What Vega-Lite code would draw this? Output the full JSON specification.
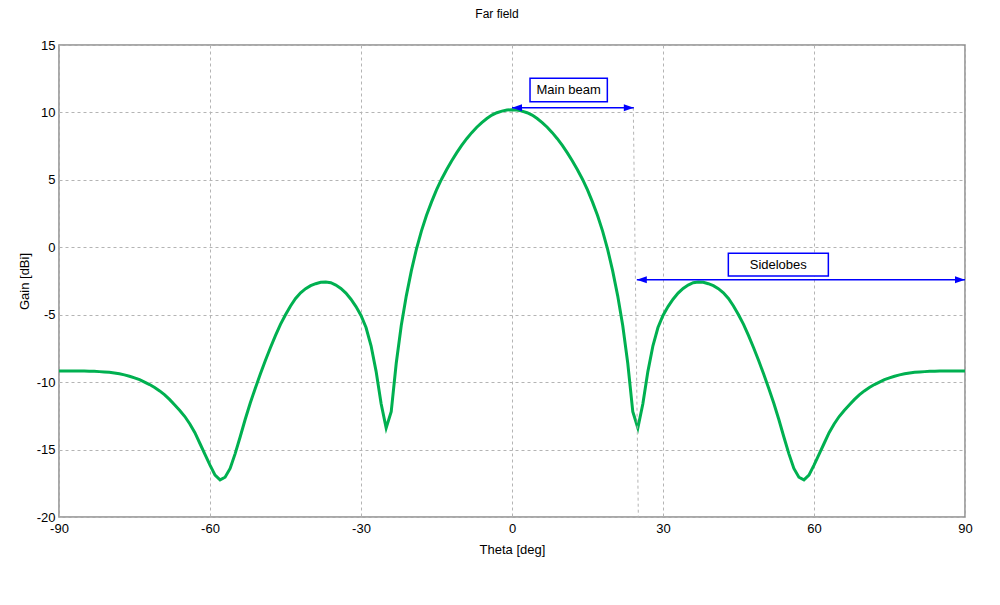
{
  "$schema": "https://vega.github.io/schema/vega-lite/v6.json",
  "autosize": "none",
  "width": 906,
  "height": 472,
  "padding": {"left": 59, "top": 45, "right": 35, "bottom": 88},
  "background": "white",
  "title": {"text": "Far field", "fontSize": 12, "fontWeight": "normal", "font": "Liberation Sans", "color": "black", "anchor": "middle", "dx": -15, "offset": 18},
  "config": {
    "view": {"stroke": "#8c8c8c", "strokeWidth": 1.5},
    "font": "Liberation Sans",
    "axis": {"domain": false, "ticks": false, "grid": true, "gridColor": "#b4b4b4", "gridDash": [3, 3], "gridWidth": 1, "labelFont": "Liberation Sans", "labelFontSize": 13, "labelColor": "black", "titleFont": "Liberation Sans", "titleFontSize": 13, "titleFontWeight": "normal", "titleColor": "black", "labelFlush": false, "labelExpr": "'' + datum.value"},
    "axisX": {"labelPadding": 5, "titlePadding": 8},
    "axisY": {"labelPadding": 4, "titlePadding": 5}
  },
  "datasets": {
    "pattern": [
      {"t":-90,"g":-9.17},{"t":-89,"g":-9.17},{"t":-88,"g":-9.17},{"t":-87,"g":-9.17},{"t":-86,"g":-9.18},{"t":-85,"g":-9.18},{"t":-84,"g":-9.19},{"t":-83,"g":-9.2},{"t":-82,"g":-9.22},{"t":-81,"g":-9.24},
      {"t":-80,"g":-9.27},{"t":-79,"g":-9.32},{"t":-78,"g":-9.38},{"t":-77,"g":-9.46},{"t":-76,"g":-9.56},{"t":-75,"g":-9.68},{"t":-74,"g":-9.82},{"t":-73,"g":-10.0},{"t":-72,"g":-10.18},{"t":-71,"g":-10.4},
      {"t":-70,"g":-10.65},{"t":-69,"g":-10.95},{"t":-68,"g":-11.3},{"t":-67,"g":-11.7},{"t":-66,"g":-12.1},{"t":-65,"g":-12.55},{"t":-64,"g":-13.1},{"t":-63,"g":-13.75},{"t":-62,"g":-14.55},{"t":-61,"g":-15.35},
      {"t":-60,"g":-16.15},{"t":-59,"g":-16.9},{"t":-58,"g":-17.25},{"t":-57,"g":-17.05},{"t":-56,"g":-16.4},{"t":-55,"g":-15.3},{"t":-54,"g":-14.05},{"t":-53,"g":-12.75},{"t":-52,"g":-11.55},{"t":-51,"g":-10.45},
      {"t":-50,"g":-9.4},{"t":-49,"g":-8.4},{"t":-48,"g":-7.45},{"t":-47,"g":-6.55},{"t":-46,"g":-5.72},{"t":-45,"g":-5.0},{"t":-44,"g":-4.35},{"t":-43,"g":-3.8},{"t":-42,"g":-3.37},{"t":-41,"g":-3.07},
      {"t":-40,"g":-2.85},{"t":-39,"g":-2.7},{"t":-38,"g":-2.6},{"t":-37,"g":-2.57},{"t":-36,"g":-2.63},{"t":-35,"g":-2.8},{"t":-34,"g":-3.05},{"t":-33,"g":-3.4},{"t":-32,"g":-3.85},{"t":-31,"g":-4.4},
      {"t":-30,"g":-5.05},{"t":-29,"g":-5.95},{"t":-28,"g":-7.3},{"t":-27,"g":-9.2},{"t":-26,"g":-11.6},{"t":-25,"g":-13.4},{"t":-24,"g":-12.2},{"t":-23,"g":-8.6},{"t":-22,"g":-5.8},{"t":-21,"g":-3.6},
      {"t":-20,"g":-1.75},{"t":-19,"g":-0.15},{"t":-18,"g":1.2},{"t":-17,"g":2.35},{"t":-16,"g":3.35},{"t":-15,"g":4.25},{"t":-14,"g":5.05},{"t":-13,"g":5.75},{"t":-12,"g":6.4},{"t":-11,"g":7.0},
      {"t":-10,"g":7.55},{"t":-9,"g":8.05},{"t":-8,"g":8.5},{"t":-7,"g":8.9},{"t":-6,"g":9.25},{"t":-5,"g":9.55},{"t":-4,"g":9.8},{"t":-3,"g":9.98},{"t":-2,"g":10.1},{"t":-1,"g":10.18},
      {"t":0,"g":10.2},
      {"t":1,"g":10.18},{"t":2,"g":10.1},{"t":3,"g":9.98},{"t":4,"g":9.8},{"t":5,"g":9.55},{"t":6,"g":9.25},{"t":7,"g":8.9},{"t":8,"g":8.5},{"t":9,"g":8.05},{"t":10,"g":7.55},
      {"t":11,"g":7.0},{"t":12,"g":6.4},{"t":13,"g":5.75},{"t":14,"g":5.05},{"t":15,"g":4.25},{"t":16,"g":3.35},{"t":17,"g":2.35},{"t":18,"g":1.2},{"t":19,"g":-0.15},{"t":20,"g":-1.75},
      {"t":21,"g":-3.6},{"t":22,"g":-5.8},{"t":23,"g":-8.6},{"t":24,"g":-12.2},{"t":25,"g":-13.4},{"t":26,"g":-11.6},{"t":27,"g":-9.2},{"t":28,"g":-7.3},{"t":29,"g":-5.95},{"t":30,"g":-5.05},
      {"t":31,"g":-4.4},{"t":32,"g":-3.85},{"t":33,"g":-3.4},{"t":34,"g":-3.05},{"t":35,"g":-2.8},{"t":36,"g":-2.63},{"t":37,"g":-2.57},{"t":38,"g":-2.6},{"t":39,"g":-2.7},{"t":40,"g":-2.85},
      {"t":41,"g":-3.07},{"t":42,"g":-3.37},{"t":43,"g":-3.8},{"t":44,"g":-4.35},{"t":45,"g":-5.0},{"t":46,"g":-5.72},{"t":47,"g":-6.55},{"t":48,"g":-7.45},{"t":49,"g":-8.4},{"t":50,"g":-9.4},
      {"t":51,"g":-10.45},{"t":52,"g":-11.55},{"t":53,"g":-12.75},{"t":54,"g":-14.05},{"t":55,"g":-15.3},{"t":56,"g":-16.4},{"t":57,"g":-17.05},{"t":58,"g":-17.25},{"t":59,"g":-16.9},{"t":60,"g":-16.15},
      {"t":61,"g":-15.35},{"t":62,"g":-14.55},{"t":63,"g":-13.75},{"t":64,"g":-13.1},{"t":65,"g":-12.55},{"t":66,"g":-12.1},{"t":67,"g":-11.7},{"t":68,"g":-11.3},{"t":69,"g":-10.95},{"t":70,"g":-10.65},
      {"t":71,"g":-10.4},{"t":72,"g":-10.18},{"t":73,"g":-10.0},{"t":74,"g":-9.82},{"t":75,"g":-9.68},{"t":76,"g":-9.56},{"t":77,"g":-9.46},{"t":78,"g":-9.38},{"t":79,"g":-9.32},{"t":80,"g":-9.27},
      {"t":81,"g":-9.24},{"t":82,"g":-9.22},{"t":83,"g":-9.2},{"t":84,"g":-9.19},{"t":85,"g":-9.18},{"t":86,"g":-9.18},{"t":87,"g":-9.17},{"t":88,"g":-9.17},{"t":89,"g":-9.17},{"t":90,"g":-9.17}
    ],
    "guide": [{"x1": 24.1, "y1": 10.35, "x2": 25.1, "y2": -20}],
    "arrows": [
      {"name": "main", "a": 0, "b": 24.2, "y": 10.35},
      {"name": "side", "a": 24.8, "b": 90, "y": -2.4}
    ],
    "boxes": [
      {"label": "Main beam", "x1": 3.58, "x2": 18.94, "y1": 12.53, "y2": 10.8, "cx": 11.26, "cy": 11.66},
      {"label": "Sidelobes", "x1": 42.98, "x2": 62.85, "y1": -0.45, "y2": -2.13, "cx": 52.9, "cy": -1.29}
    ]
  },
  "layer": [
    {
      "data": {"name": "pattern"},
      "mark": {"type": "line", "color": "#00b050", "strokeWidth": 3, "interpolate": "linear", "clip": true},
      "encoding": {
        "x": {"field": "t", "type": "quantitative", "scale": {"domain": [-90, 90], "nice": false, "zero": false},
              "axis": {"values": [-90, -60, -30, 0, 30, 60, 90], "title": "Theta [deg]"}},
        "y": {"field": "g", "type": "quantitative", "scale": {"domain": [-20, 15], "nice": false, "zero": false},
              "axis": {"values": [-20, -15, -10, -5, 0, 5, 10, 15], "title": "Gain [dBi]"}}
      }
    },
    {
      "data": {"name": "guide"},
      "mark": {"type": "rule", "color": "#b4b4b4", "strokeDash": [3, 3], "strokeWidth": 1},
      "encoding": {
        "x": {"field": "x1", "type": "quantitative", "axis": {"values": [-90, -60, -30, 0, 30, 60, 90], "title": "Theta [deg]"}},
        "x2": {"field": "x2"},
        "y": {"field": "y1", "type": "quantitative", "axis": {"values": [-20, -15, -10, -5, 0, 5, 10, 15], "title": "Gain [dBi]"}},
        "y2": {"field": "y2"}
      }
    },
    {
      "data": {"name": "arrows"},
      "mark": {"type": "rule", "color": "#0000ff", "strokeWidth": 1.5},
      "encoding": {
        "x": {"field": "a", "type": "quantitative", "axis": {"values": [-90, -60, -30, 0, 30, 60, 90], "title": "Theta [deg]"}},
        "x2": {"field": "b"},
        "y": {"field": "y", "type": "quantitative", "axis": {"values": [-20, -15, -10, -5, 0, 5, 10, 15], "title": "Gain [dBi]"}}
      }
    },
    {
      "data": {"name": "arrows"},
      "mark": {"type": "point", "shape": "M0,0 L2,-0.7 L2,0.7 Z", "filled": true, "color": "#0000ff", "opacity": 1, "size": 100},
      "encoding": {
        "x": {"field": "a", "type": "quantitative", "axis": {"values": [-90, -60, -30, 0, 30, 60, 90], "title": "Theta [deg]"}},
        "y": {"field": "y", "type": "quantitative", "axis": {"values": [-20, -15, -10, -5, 0, 5, 10, 15], "title": "Gain [dBi]"}}
      }
    },
    {
      "data": {"name": "arrows"},
      "mark": {"type": "point", "shape": "M0,0 L-2,-0.7 L-2,0.7 Z", "filled": true, "color": "#0000ff", "opacity": 1, "size": 100},
      "encoding": {
        "x": {"field": "b", "type": "quantitative", "axis": {"values": [-90, -60, -30, 0, 30, 60, 90], "title": "Theta [deg]"}},
        "y": {"field": "y", "type": "quantitative", "axis": {"values": [-20, -15, -10, -5, 0, 5, 10, 15], "title": "Gain [dBi]"}}
      }
    },
    {
      "data": {"name": "boxes"},
      "mark": {"type": "rect", "fill": "white", "stroke": "#0000ff", "strokeWidth": 1.5},
      "encoding": {
        "x": {"field": "x1", "type": "quantitative", "axis": {"values": [-90, -60, -30, 0, 30, 60, 90], "title": "Theta [deg]"}},
        "x2": {"field": "x2"},
        "y": {"field": "y1", "type": "quantitative", "axis": {"values": [-20, -15, -10, -5, 0, 5, 10, 15], "title": "Gain [dBi]"}},
        "y2": {"field": "y2"}
      }
    },
    {
      "data": {"name": "boxes"},
      "mark": {"type": "text", "font": "Liberation Sans", "fontSize": 13, "color": "black", "align": "center", "baseline": "middle"},
      "encoding": {
        "x": {"field": "cx", "type": "quantitative", "axis": {"values": [-90, -60, -30, 0, 30, 60, 90], "title": "Theta [deg]"}},
        "y": {"field": "cy", "type": "quantitative", "axis": {"values": [-20, -15, -10, -5, 0, 5, 10, 15], "title": "Gain [dBi]"}},
        "text": {"field": "label"}
      }
    }
  ]
}
